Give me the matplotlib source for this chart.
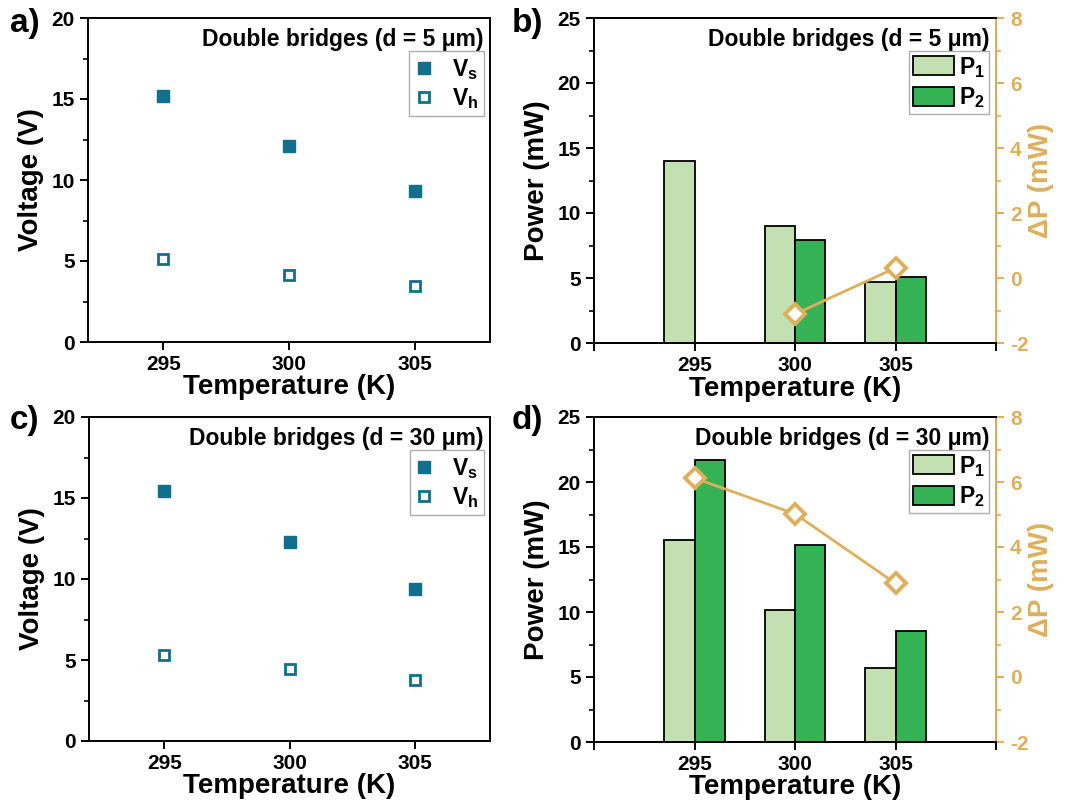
import numpy as np
import matplotlib
matplotlib.use("Agg")
import matplotlib.pyplot as plt
from matplotlib.ticker import MultipleLocator, FixedLocator, NullLocator

plt.rcParams['font.family'] = ['Liberation Sans', 'DejaVu Sans']
plt.rcParams['font.weight'] = 'bold'
plt.rcParams['axes.unicode_minus'] = False
plt.rcParams['mathtext.fontset'] = 'custom'
plt.rcParams['mathtext.rm'] = 'Liberation Sans:bold'
plt.rcParams['mathtext.it'] = 'Liberation Sans:bold'
plt.rcParams['mathtext.bf'] = 'Liberation Sans:bold'

# ---------------- data ----------------
temps = [295, 300, 305]
temp_ticks = [295, 300, 305]

vs_5 = [15.2, 12.1, 9.35]
vh_5 = [5.1, 4.15, 3.45]
vs_30 = [15.45, 12.3, 9.36]
vh_30 = [5.3, 4.44, 3.77]

p1_5 = [14.0, 9.02, 4.72]
p2_5 = [np.nan, 7.92, 5.07]
dp_5 = [np.nan, -1.11, 0.31]

p1_30 = [15.57, 10.15, 5.69]
p2_30 = [21.7, 15.15, 8.57]
dp_30 = [6.12, 5.02, 2.88]

title_5 = "Double bridges (d = 5 \u03bcm)"
title_30 = "Double bridges (d = 30 \u03bcm)"

# ---------------- style ----------------
TEAL = '#0f6f8d'
LGREEN = '#c2e0b2'
DGREEN = '#35b254'
ORANGE = '#deaf5c'
TICK_FS = 15
LABEL_FS = 20
ANN_FS = 16.5
W, H = 1069, 809

fig = plt.figure(figsize=(W / 100, H / 100), dpi=100)


def rect(l, t, r, b):
    return [l / W, 1 - b / H, (r - l) / W, (b - t) / H]


def style_axis(ax):
    for s in ax.spines.values():
        s.set_linewidth(1.4)
    ax.tick_params(axis='both', which='major', direction='out', length=6, width=1.4,
                   labelsize=TICK_FS, pad=3.5)
    ax.tick_params(axis='both', which='minor', direction='out', length=3.5, width=1.2)
    ax.tick_params(top=False, right=False, which='both')
    for lab in ax.get_xticklabels() + ax.get_yticklabels():
        lab.set_fontweight('bold')


def voltage_panel(pos, vs, vh, title):
    ax = fig.add_axes(pos)
    ax.plot(temps, vs, 's', color=TEAL, ms=8, mec=TEAL, label='V$_\\mathrm{s}$', zorder=3)
    ax.plot(temps, vh, 's', mfc='white', mec=TEAL, mew=2.0, ms=6.5,
            label='V$_\\mathrm{h}$', zorder=3)
    ax.set_xlim(292, 308)
    ax.set_ylim(0, 20)
    ax.xaxis.set_major_locator(FixedLocator(temp_ticks))
    ax.xaxis.set_minor_locator(NullLocator())
    ax.yaxis.set_major_locator(MultipleLocator(5))
    ax.yaxis.set_minor_locator(MultipleLocator(2.5))
    style_axis(ax)
    ax.set_xlabel('Temperature (K)', fontsize=LABEL_FS, fontweight='bold')
    ax.set_ylabel('Voltage (V)', fontsize=LABEL_FS, fontweight='bold')
    ax.xaxis.set_label_coords(0.5, -0.1)
    ax.yaxis.set_label_coords(-0.11, 0.5)
    ax.text(0.985, 0.97, title, transform=ax.transAxes, ha='right', va='top',
            fontsize=ANN_FS, fontweight='bold')
    leg = ax.legend(loc='upper right', bbox_to_anchor=(0.985, 0.898), borderaxespad=0,
                    fontsize=ANN_FS, frameon=True, fancybox=False, edgecolor='#999999',
                    handlelength=0.8, handletextpad=0.8, borderpad=0.25,
                    labelspacing=0.18, markerscale=1.0)
    leg.get_frame().set_linewidth(1.0)
    return ax


def power_panel(pos, p1, p2, dp, title):
    ax = fig.add_axes(pos)
    x = np.array(temps, dtype=float)
    bw = 1.5
    ax.bar(x - bw / 2, p1, width=bw, color=LGREEN, edgecolor='black', linewidth=1.3,
           label='P$_\\mathrm{1}$', zorder=2)
    ax.bar(x + bw / 2, p2, width=bw, color=DGREEN, edgecolor='black', linewidth=1.3,
           label='P$_\\mathrm{2}$', zorder=2)
    ax.set_xlim(290, 310)
    ax.set_ylim(0, 25)
    ax.xaxis.set_major_locator(FixedLocator([290, 295, 300, 305, 310]))
    ax.set_xticklabels(['', '295', '300', '305', ''])
    ax.xaxis.set_minor_locator(NullLocator())
    ax.yaxis.set_major_locator(MultipleLocator(5))
    ax.yaxis.set_minor_locator(MultipleLocator(2.5))
    style_axis(ax)
    ax.set_xlabel('Temperature (K)', fontsize=LABEL_FS, fontweight='bold')
    ax.set_ylabel('Power (mW)', fontsize=LABEL_FS, fontweight='bold')
    ax.xaxis.set_label_coords(0.5, -0.1)
    ax.yaxis.set_label_coords(-0.11, 0.5)
    ax.text(0.985, 0.97, title, transform=ax.transAxes, ha='right', va='top',
            fontsize=ANN_FS, fontweight='bold', zorder=5)
    leg = ax.legend(loc='upper right', bbox_to_anchor=(0.982, 0.900), borderaxespad=0,
                    fontsize=ANN_FS, frameon=True, fancybox=False, edgecolor='#999999',
                    handlelength=1.8, handleheight=0.9, handletextpad=0.2,
                    borderpad=0.18, labelspacing=0.25)
    leg.get_frame().set_linewidth(1.0)

    ax2 = ax.twinx()
    ax2.plot(temps, dp, '-', color=ORANGE, lw=2.0, zorder=3)
    ax2.plot(temps, dp, 'D', mfc='white', mec=ORANGE, mew=2.8, ms=10, zorder=4)
    ax2.set_ylim(-2, 8)
    ax2.yaxis.set_major_locator(MultipleLocator(2))
    ax2.yaxis.set_minor_locator(MultipleLocator(1))
    for s in ax2.spines.values():
        s.set_linewidth(1.4)
    ax2.spines['right'].set_color(ORANGE)
    ax2.tick_params(axis='y', which='major', direction='out', length=6, width=1.4,
                    labelsize=TICK_FS, colors=ORANGE, pad=4)
    ax2.tick_params(axis='y', which='minor', direction='out', length=3.5, width=1.2,
                    colors=ORANGE)
    for lab in ax2.get_yticklabels():
        lab.set_fontweight('bold')
    ax2.set_ylabel('\u0394P (mW)', fontsize=LABEL_FS, fontweight='bold', color=ORANGE,
                   rotation=90)
    ax2.yaxis.set_label_coords(1.08, 0.5)
    return ax


voltage_panel(rect(88, 18, 490, 342), vs_5, vh_5, title_5)
power_panel(rect(594, 18, 996, 343), p1_5, p2_5, dp_5, title_5)
voltage_panel(rect(89, 417, 490, 741), vs_30, vh_30, title_30)
power_panel(rect(594, 417, 996, 742), p1_30, p2_30, dp_30, title_30)

for lbl, x, y in [('a)', 10, 32), ('b)', 512, 32), ('c)', 10, 429), ('d)', 512, 429)]:
    fig.text(x / W, 1 - y / H, lbl, fontsize=24, fontweight='bold', va='baseline', ha='left')

fig.savefig('out.png', dpi=100)
